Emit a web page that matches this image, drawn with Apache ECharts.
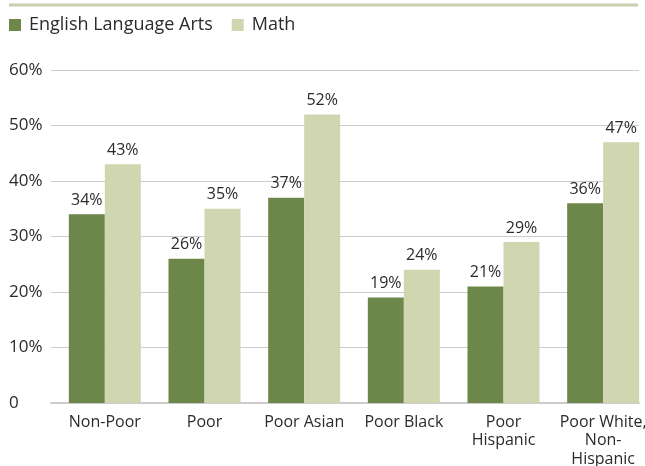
<!DOCTYPE html>
<html>
<head>
<meta charset="utf-8">
<script src="https://cdn.jsdelivr.net/npm/echarts@6/dist/echarts.min.js"></script>
<style>
  html, body { margin: 0; padding: 0; background: #fff; }
  #chart { width: 645px; height: 466px; }
</style>
</head>
<body>
<div id="chart"></div>
<script>
// Share of students scoring proficient, by group
const categories = ['Non-Poor', 'Poor', 'Poor Asian', 'Poor Black', 'Poor\nHispanic', 'Poor White,\nNon-\nHispanic'];
const elaValues = [34, 26, 37, 19, 21, 36];
const mathValues = [43, 35, 52, 24, 29, 47];
const yTicks = [0, 10, 20, 30, 40, 50, 60];

const FONT = '"Open Sans", "Noto Sans", sans-serif';
const TEXT = '#2b2b2b';
const ELA_COLOR = '#6c8749';
const MATH_COLOR = '#cfd6b0';

const chart = echarts.init(document.getElementById('chart'), null, { renderer: 'canvas' });

const gridTop = 70;
const gridBottom = 63;

chart.setOption({
  animation: false,
  textStyle: { fontFamily: FONT },
  graphic: [{
    type: 'line',
    shape: { x1: 9, y1: 5, x2: 638, y2: 5 },
    style: { stroke: '#c9ceb1', lineWidth: 3 }
  }],
  legend: {
    left: 9,
    top: 16,
    padding: 0,
    itemWidth: 12,
    itemHeight: 12,
    itemGap: 19,
    icon: 'rect',
    textStyle: { fontFamily: FONT, fontSize: 18, color: TEXT, padding: [0, 0, 0, 3] },
    data: ['English Language Arts', 'Math']
  },
  grid: [
    { left: 51, right: 6, top: gridTop, bottom: gridBottom, outerBoundsMode: 'none', containLabel: false },
    { left: 55, width: 598, top: gridTop, bottom: gridBottom, outerBoundsMode: 'none', containLabel: false }
  ],
  xAxis: [
    {
      gridIndex: 0, type: 'value', min: 0, max: 1,
      axisLabel: { show: false }, axisTick: { show: false }, splitLine: { show: false },
      axisLine: { show: true, lineStyle: { color: '#cccccc', width: 2 } }
    },
    {
      gridIndex: 1, type: 'category', data: categories,
      axisLine: { show: false }, axisTick: { show: false },
      axisLabel: { color: TEXT, fontSize: 16, fontFamily: FONT, margin: 10, lineHeight: 18.5, interval: 0 }
    }
  ],
  yAxis: [
    {
      gridIndex: 0, type: 'value', min: 0, max: 60, interval: 10,
      axisLine: { show: false }, axisTick: { show: false },
      axisLabel: {
        align: 'left', margin: 42, color: TEXT, fontSize: 17, fontFamily: FONT,
        formatter: v => (yTicks.includes(v) ? (v === 0 ? '0' : v + '%') : '')
      },
      splitLine: { lineStyle: { color: '#cccccc', width: 1 } }
    },
    { gridIndex: 1, type: 'value', min: 0, max: 60, show: false }
  ],
  series: [
    {
      name: 'English Language Arts', type: 'bar', xAxisIndex: 1, yAxisIndex: 1,
      data: elaValues, barWidth: 36, barGap: '0%',
      itemStyle: { color: ELA_COLOR },
      label: { show: true, position: 'top', distance: 6, formatter: '{c}%', color: TEXT, fontSize: 16, fontFamily: FONT }
    },
    {
      name: 'Math', type: 'bar', xAxisIndex: 1, yAxisIndex: 1,
      data: mathValues, barWidth: 36, barGap: '0%',
      itemStyle: { color: MATH_COLOR },
      label: { show: true, position: 'top', distance: 6, formatter: '{c}%', color: TEXT, fontSize: 16, fontFamily: FONT }
    }
  ]
});
</script>
</body>
</html>
